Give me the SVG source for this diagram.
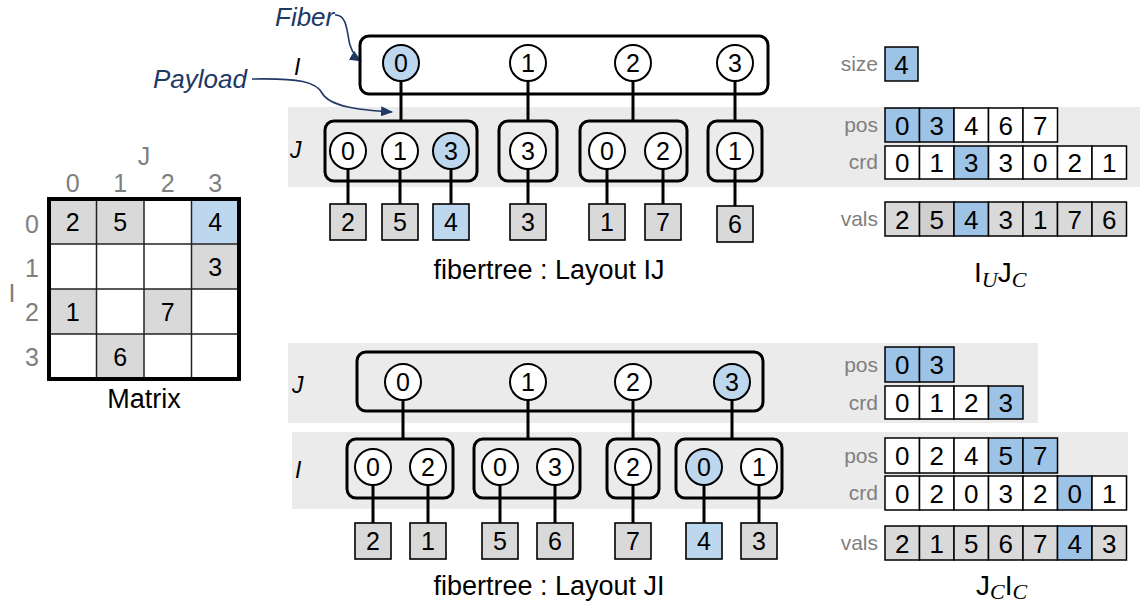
<svg xmlns="http://www.w3.org/2000/svg" width="1140" height="609" viewBox="0 0 1140 609">
  <style>
    text { font-family: "Liberation Sans", Arial, sans-serif; }
    .band { fill: #ebebeb; }
    .fib { fill: none; stroke: #000; stroke-width: 3; }
    .c { fill: #fff; stroke: #000; stroke-width: 2; }
    .cb { fill: #bdd7ee; stroke: #000; stroke-width: 2; }
    .edge { stroke: #000; stroke-width: 3; fill: none; }
    .pl { fill: #d9d9d9; stroke: #000; stroke-width: 1.6; }
    .plb { fill: #bdd7ee; stroke: #000; stroke-width: 1.6; }
    .n { font-size: 25px; text-anchor: middle; fill: #000; }
    .an { font-size: 26px; text-anchor: middle; fill: #000; }
    .axl { font-style: italic; font-size: 23px; fill: #000; }
    .gl { font-size: 21px; fill: #7f7f7f; text-anchor: end; }
    .ml { font-size: 25px; fill: #7f7f7f; text-anchor: middle; }
    .cap { font-size: 27px; text-anchor: middle; fill: #000; }
    .aw { fill: #fff; stroke: #000; stroke-width: 1.5; }
    .ag { fill: #d9d9d9; stroke: #000; stroke-width: 1.5; }
    .agd { fill: #d0cece; stroke: #000; stroke-width: 1.5; }
    .ab { fill: #9dc3e6; stroke: #000; stroke-width: 1.5; }
    .call { fill: none; stroke: #203864; stroke-width: 1.6; }
    .calltxt { font-style: italic; font-size: 26px; fill: #203864; }
    .fmt { font-size: 28px; fill: #000; }
    .sub { font-family: "Liberation Serif", "DejaVu Serif", serif; font-style: italic; font-size: 22px; fill: #000; }
  </style>
  <defs>
    <marker id="callArrow" markerWidth="12" markerHeight="10" refX="11" refY="5" orient="auto" markerUnits="userSpaceOnUse">
      <path d="M0,0 L12,5 L0,10 Z" fill="#203864"/>
    </marker>
  </defs>

  <!-- level background bands -->
  <g id="bands">
    <rect class="band" x="288" y="107" width="852" height="80"/>
    <rect class="band" x="288" y="343" width="750" height="80"/>
    <rect class="band" x="292" y="432" width="836" height="77"/>
  </g>

  <!-- dense matrix -->
  <g id="matrix">
    <rect x="49" y="199" width="47.5" height="45" fill="#d9d9d9"/>
    <rect x="96.5" y="199" width="47.5" height="45" fill="#d9d9d9"/>
    <rect x="191.5" y="199" width="47.5" height="45" fill="#bdd7ee"/>
    <rect x="191.5" y="244" width="47.5" height="45" fill="#d9d9d9"/>
    <rect x="49" y="289" width="47.5" height="45" fill="#d9d9d9"/>
    <rect x="144" y="289" width="47.5" height="45" fill="#d9d9d9"/>
    <rect x="96.5" y="334" width="47.5" height="45" fill="#d9d9d9"/>
    <g stroke="#222" stroke-width="1.5">
      <line x1="96.5" y1="199" x2="96.5" y2="379"/>
      <line x1="144" y1="199" x2="144" y2="379"/>
      <line x1="191.5" y1="199" x2="191.5" y2="379"/>
      <line x1="49" y1="244" x2="239" y2="244"/>
      <line x1="49" y1="289" x2="239" y2="289"/>
      <line x1="49" y1="334" x2="239" y2="334"/>
    </g>
    <rect x="49" y="199" width="190" height="180" fill="none" stroke="#000" stroke-width="4"/>
    <text class="n" x="72.75" y="230.5">2</text>
    <text class="n" x="120.25" y="230.5">5</text>
    <text class="n" x="215.25" y="230.5">4</text>
    <text class="n" x="215.25" y="275.5">3</text>
    <text class="n" x="72.75" y="320.5">1</text>
    <text class="n" x="167.75" y="320.5">7</text>
    <text class="n" x="120.25" y="365.5">6</text>
    <text class="ml" x="144" y="165">J</text>
    <text class="ml" x="72.75" y="192">0</text>
    <text class="ml" x="120.25" y="192">1</text>
    <text class="ml" x="167.75" y="192">2</text>
    <text class="ml" x="215.25" y="192">3</text>
    <text class="ml" x="32" y="233">0</text>
    <text class="ml" x="32" y="277">1</text>
    <text class="ml" x="32" y="321">2</text>
    <text class="ml" x="32" y="366">3</text>
    <text class="ml" x="12" y="302">I</text>
    <text class="cap" x="144" y="408">Matrix</text>
  </g>

  <!-- callouts -->
  <g id="callouts">
    <text class="calltxt" x="275" y="26">Fiber</text>
    <text class="calltxt" x="153" y="88">Payload</text>
    <path class="call" d="M335,15 C348,14 347,36 350,45 C353,54 356,58 361,61" marker-end="url(#callArrow)"/>
    <path class="call" d="M252,79 C300,78 316,82 322,93 C330,107 360,110 392,112" marker-end="url(#callArrow)"/>
  </g>

  <!-- tree connectors -->
  <g id="connectors">
    <line class="edge" x1="401" y1="63" x2="401" y2="121"/>
    <line class="edge" x1="528" y1="63" x2="528" y2="121"/>
    <line class="edge" x1="633" y1="63" x2="633" y2="121"/>
    <line class="edge" x1="735" y1="63" x2="735" y2="121"/>
    <line class="edge" x1="348" y1="151" x2="348" y2="204"/>
    <line class="edge" x1="400" y1="151" x2="400" y2="204"/>
    <line class="edge" x1="451" y1="151" x2="451" y2="204"/>
    <line class="edge" x1="528" y1="151" x2="528" y2="204"/>
    <line class="edge" x1="607" y1="151" x2="607" y2="204"/>
    <line class="edge" x1="663" y1="151" x2="663" y2="204"/>
    <line class="edge" x1="735" y1="151" x2="735" y2="206"/>

    <line class="edge" x1="403" y1="382" x2="403" y2="439"/>
    <line class="edge" x1="528" y1="382" x2="528" y2="439"/>
    <line class="edge" x1="633" y1="382" x2="633" y2="439"/>
    <line class="edge" x1="732" y1="382" x2="732" y2="439"/>
    <line class="edge" x1="373" y1="467" x2="373" y2="523"/>
    <line class="edge" x1="428" y1="467" x2="428" y2="523"/>
    <line class="edge" x1="500" y1="467" x2="500" y2="523"/>
    <line class="edge" x1="555" y1="467" x2="555" y2="523"/>
    <line class="edge" x1="633" y1="467" x2="633" y2="523"/>
    <line class="edge" x1="704" y1="467" x2="704" y2="523"/>
    <line class="edge" x1="759" y1="467" x2="759" y2="523"/>
  </g>

  <!-- fibertree IJ -->
  <g id="ij-labels">
    <text class="axl" x="294" y="75">I</text>
    <text class="axl" x="290" y="158">J</text>
  </g>
  <g id="ij-fiber-i">
    <rect class="fib" x="360" y="36" width="408" height="58" rx="9"/>
    <circle class="cb" cx="401" cy="63" r="18"/><text class="n" x="401" y="72">0</text>
    <circle class="c" cx="528" cy="63" r="18"/><text class="n" x="528" y="72">1</text>
    <circle class="c" cx="633" cy="63" r="18"/><text class="n" x="633" y="72">2</text>
    <circle class="c" cx="735" cy="63" r="18"/><text class="n" x="735" y="72">3</text>
  </g>
  <g id="ij-fiber-j0">
    <rect class="fib" x="325" y="121" width="152" height="60" rx="9"/>
    <circle class="c" cx="348" cy="151" r="18"/><text class="n" x="348" y="160">0</text>
    <circle class="c" cx="400" cy="151" r="18"/><text class="n" x="400" y="160">1</text>
    <circle class="cb" cx="451" cy="151" r="18"/><text class="n" x="451" y="160">3</text>
  </g>
  <g id="ij-fiber-j1">
    <rect class="fib" x="499" y="121" width="58" height="60" rx="9"/>
    <circle class="c" cx="528" cy="151" r="18"/><text class="n" x="528" y="160">3</text>
  </g>
  <g id="ij-fiber-j2">
    <rect class="fib" x="580" y="121" width="107" height="60" rx="9"/>
    <circle class="c" cx="607" cy="151" r="18"/><text class="n" x="607" y="160">0</text>
    <circle class="c" cx="663" cy="151" r="18"/><text class="n" x="663" y="160">2</text>
  </g>
  <g id="ij-fiber-j3">
    <rect class="fib" x="708" y="121" width="54" height="60" rx="9"/>
    <circle class="c" cx="735" cy="151" r="18"/><text class="n" x="735" y="160">1</text>
  </g>
  <g id="ij-payloads">
    <rect class="pl" x="330" y="204" width="36" height="36"/><text class="n" x="348" y="231">2</text>
    <rect class="pl" x="382" y="204" width="36" height="36"/><text class="n" x="400" y="231">5</text>
    <rect class="plb" x="433" y="204" width="36" height="36"/><text class="n" x="451" y="231">4</text>
    <rect class="pl" x="510" y="204" width="36" height="36"/><text class="n" x="528" y="231">3</text>
    <rect class="pl" x="589" y="204" width="36" height="36"/><text class="n" x="607" y="231">1</text>
    <rect class="pl" x="645" y="204" width="36" height="36"/><text class="n" x="663" y="231">7</text>
    <rect class="pl" x="717" y="206" width="36" height="36"/><text class="n" x="735" y="233">6</text>
  </g>
  <text class="cap" x="549" y="279">fibertree : Layout IJ</text>

  <!-- fibertree JI -->
  <g id="ji-labels">
    <text class="axl" x="292" y="393">J</text>
    <text class="axl" x="295" y="478">I</text>
  </g>
  <g id="ji-fiber-j">
    <rect class="fib" x="357" y="352" width="406" height="59" rx="9"/>
    <circle class="c" cx="403" cy="382" r="18"/><text class="n" x="403" y="391">0</text>
    <circle class="c" cx="528" cy="382" r="18"/><text class="n" x="528" y="391">1</text>
    <circle class="c" cx="633" cy="382" r="18"/><text class="n" x="633" y="391">2</text>
    <circle class="cb" cx="732" cy="382" r="18"/><text class="n" x="732" y="391">3</text>
  </g>
  <g id="ji-fiber-i0">
    <rect class="fib" x="347" y="439" width="106" height="59" rx="9"/>
    <circle class="c" cx="373" cy="467" r="18"/><text class="n" x="373" y="476">0</text>
    <circle class="c" cx="428" cy="467" r="18"/><text class="n" x="428" y="476">2</text>
  </g>
  <g id="ji-fiber-i1">
    <rect class="fib" x="474" y="439" width="106" height="59" rx="9"/>
    <circle class="c" cx="500" cy="467" r="18"/><text class="n" x="500" y="476">0</text>
    <circle class="c" cx="555" cy="467" r="18"/><text class="n" x="555" y="476">3</text>
  </g>
  <g id="ji-fiber-i2">
    <rect class="fib" x="607" y="439" width="52" height="59" rx="9"/>
    <circle class="c" cx="633" cy="467" r="18"/><text class="n" x="633" y="476">2</text>
  </g>
  <g id="ji-fiber-i3">
    <rect class="fib" x="676" y="439" width="106" height="59" rx="9"/>
    <circle class="cb" cx="704" cy="467" r="18"/><text class="n" x="704" y="476">0</text>
    <circle class="c" cx="759" cy="467" r="18"/><text class="n" x="759" y="476">1</text>
  </g>
  <g id="ji-payloads">
    <rect class="pl" x="355" y="523" width="36" height="36"/><text class="n" x="373" y="550">2</text>
    <rect class="pl" x="410" y="523" width="36" height="36"/><text class="n" x="428" y="550">1</text>
    <rect class="pl" x="482" y="523" width="36" height="36"/><text class="n" x="500" y="550">5</text>
    <rect class="pl" x="537" y="523" width="36" height="36"/><text class="n" x="555" y="550">6</text>
    <rect class="pl" x="615" y="523" width="36" height="36"/><text class="n" x="633" y="550">7</text>
    <rect class="plb" x="686" y="523" width="36" height="36"/><text class="n" x="704" y="550">4</text>
    <rect class="pl" x="741" y="523" width="36" height="36"/><text class="n" x="759" y="550">3</text>
  </g>
  <text class="cap" x="549" y="595">fibertree : Layout JI</text>

  <!-- compressed arrays, format I_U J_C -->
  <g id="iu-jc-arrays">
    <text class="gl" x="878" y="71">size</text>
    <rect class="ab" x="885" y="47" width="33" height="34"/><text class="an" x="901.5" y="73.5">4</text>

    <text class="gl" x="878" y="132">pos</text>
    <rect class="ab" x="885" y="108" width="34.5" height="34"/><text class="an" x="902.25" y="134.5">0</text>
    <rect class="ab" x="919.5" y="108" width="34.5" height="34"/><text class="an" x="936.75" y="134.5">3</text>
    <rect class="aw" x="954" y="108" width="34.5" height="34"/><text class="an" x="971.25" y="134.5">4</text>
    <rect class="aw" x="988.5" y="108" width="34.5" height="34"/><text class="an" x="1005.75" y="134.5">6</text>
    <rect class="aw" x="1023" y="108" width="34.5" height="34"/><text class="an" x="1040.25" y="134.5">7</text>

    <text class="gl" x="878" y="169">crd</text>
    <rect class="aw" x="885" y="146" width="34.5" height="33"/><text class="an" x="902.25" y="172">0</text>
    <rect class="aw" x="919.5" y="146" width="34.5" height="33"/><text class="an" x="936.75" y="172">1</text>
    <rect class="ab" x="954" y="146" width="34.5" height="33"/><text class="an" x="971.25" y="172">3</text>
    <rect class="aw" x="988.5" y="146" width="34.5" height="33"/><text class="an" x="1005.75" y="172">3</text>
    <rect class="aw" x="1023" y="146" width="34.5" height="33"/><text class="an" x="1040.25" y="172">0</text>
    <rect class="aw" x="1057.5" y="146" width="34.5" height="33"/><text class="an" x="1074.75" y="172">2</text>
    <rect class="aw" x="1092" y="146" width="34.5" height="33"/><text class="an" x="1109.25" y="172">1</text>

    <text class="gl" x="878" y="226">vals</text>
    <rect class="ag" x="885" y="202" width="34.5" height="34"/><text class="an" x="902.25" y="228.5">2</text>
    <rect class="agd" x="919.5" y="202" width="34.5" height="34"/><text class="an" x="936.75" y="228.5">5</text>
    <rect class="ab" x="954" y="202" width="34.5" height="34"/><text class="an" x="971.25" y="228.5">4</text>
    <rect class="ag" x="988.5" y="202" width="34.5" height="34"/><text class="an" x="1005.75" y="228.5">3</text>
    <rect class="ag" x="1023" y="202" width="34.5" height="34"/><text class="an" x="1040.25" y="228.5">1</text>
    <rect class="ag" x="1057.5" y="202" width="34.5" height="34"/><text class="an" x="1074.75" y="228.5">7</text>
    <rect class="ag" x="1092" y="202" width="34.5" height="34"/><text class="an" x="1109.25" y="228.5">6</text>

    <text x="974" y="282"><tspan class="fmt">I</tspan><tspan class="sub" dy="5">U</tspan><tspan class="fmt" dy="-5">J</tspan><tspan class="sub" dy="5">C</tspan></text>
  </g>

  <!-- compressed arrays, format J_C I_C -->
  <g id="jc-ic-arrays">
    <text class="gl" x="878" y="371.5">pos</text>
    <rect class="ab" x="885" y="347" width="34.5" height="35"/><text class="an" x="902.25" y="374">0</text>
    <rect class="ab" x="919.5" y="347" width="34.5" height="35"/><text class="an" x="936.75" y="374">3</text>

    <text class="gl" x="878" y="409.5">crd</text>
    <rect class="aw" x="885" y="386" width="34.5" height="33"/><text class="an" x="902.25" y="412">0</text>
    <rect class="aw" x="919.5" y="386" width="34.5" height="33"/><text class="an" x="936.75" y="412">1</text>
    <rect class="aw" x="954" y="386" width="34.5" height="33"/><text class="an" x="971.25" y="412">2</text>
    <rect class="ab" x="988.5" y="386" width="34.5" height="33"/><text class="an" x="1005.75" y="412">3</text>

    <text class="gl" x="878" y="462.5">pos</text>
    <rect class="aw" x="885" y="438" width="34.5" height="35"/><text class="an" x="902.25" y="465">0</text>
    <rect class="aw" x="919.5" y="438" width="34.5" height="35"/><text class="an" x="936.75" y="465">2</text>
    <rect class="aw" x="954" y="438" width="34.5" height="35"/><text class="an" x="971.25" y="465">4</text>
    <rect class="ab" x="988.5" y="438" width="34.5" height="35"/><text class="an" x="1005.75" y="465">5</text>
    <rect class="ab" x="1023" y="438" width="34.5" height="35"/><text class="an" x="1040.25" y="465">7</text>

    <text class="gl" x="878" y="500">crd</text>
    <rect class="aw" x="885" y="476" width="34.5" height="34"/><text class="an" x="902.25" y="502.5">0</text>
    <rect class="aw" x="919.5" y="476" width="34.5" height="34"/><text class="an" x="936.75" y="502.5">2</text>
    <rect class="aw" x="954" y="476" width="34.5" height="34"/><text class="an" x="971.25" y="502.5">0</text>
    <rect class="aw" x="988.5" y="476" width="34.5" height="34"/><text class="an" x="1005.75" y="502.5">3</text>
    <rect class="aw" x="1023" y="476" width="34.5" height="34"/><text class="an" x="1040.25" y="502.5">2</text>
    <rect class="ab" x="1057.5" y="476" width="34.5" height="34"/><text class="an" x="1074.75" y="502.5">0</text>
    <rect class="aw" x="1092" y="476" width="34.5" height="34"/><text class="an" x="1109.25" y="502.5">1</text>

    <text class="gl" x="878" y="550">vals</text>
    <rect class="ag" x="885" y="526" width="34.5" height="34"/><text class="an" x="902.25" y="552.5">2</text>
    <rect class="ag" x="919.5" y="526" width="34.5" height="34"/><text class="an" x="936.75" y="552.5">1</text>
    <rect class="ag" x="954" y="526" width="34.5" height="34"/><text class="an" x="971.25" y="552.5">5</text>
    <rect class="ag" x="988.5" y="526" width="34.5" height="34"/><text class="an" x="1005.75" y="552.5">6</text>
    <rect class="ag" x="1023" y="526" width="34.5" height="34"/><text class="an" x="1040.25" y="552.5">7</text>
    <rect class="ab" x="1057.5" y="526" width="34.5" height="34"/><text class="an" x="1074.75" y="552.5">4</text>
    <rect class="ag" x="1092" y="526" width="34.5" height="34"/><text class="an" x="1109.25" y="552.5">3</text>

    <text x="976" y="595"><tspan class="fmt">J</tspan><tspan class="sub" dy="4">C</tspan><tspan class="fmt" dy="-4">I</tspan><tspan class="sub" dy="4">C</tspan></text>
  </g>
</svg>
